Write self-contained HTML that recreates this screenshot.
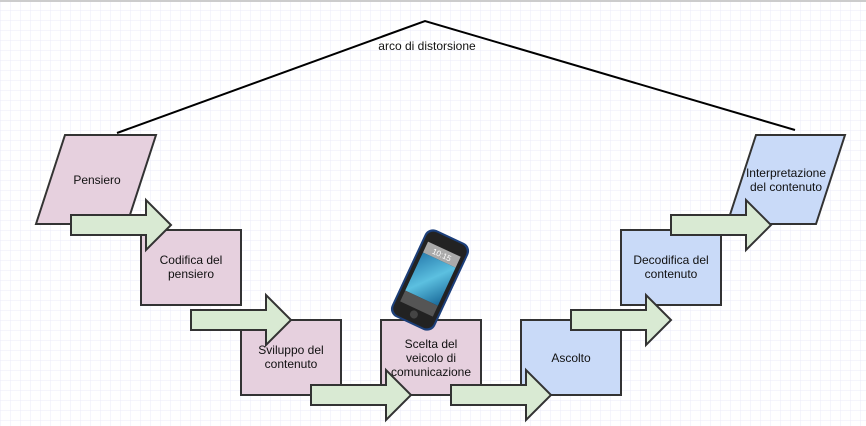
<!DOCTYPE html>
<html><head><style>
body{margin:0;width:866px;height:426px;overflow:hidden;background:#fff;}
svg{display:block}
text{font-family:"Liberation Sans",sans-serif;font-size:12px;fill:#111;}
</style></head><body>
<svg width="866" height="426" xmlns="http://www.w3.org/2000/svg">
<defs>
<pattern id="g" width="10" height="10" patternUnits="userSpaceOnUse" x="1" y="1">
<path d="M10 0V10H0" fill="none" stroke="#ebebf8" stroke-width="1"/>
</pattern>
<linearGradient id="scr" x1="0" y1="0" x2="1" y2="1"><stop offset="0" stop-color="#2a7fb0"/><stop offset="0.5" stop-color="#5cc0e0"/><stop offset="1" stop-color="#1a6a9a"/></linearGradient>
</defs>
<rect width="866" height="426" fill="url(#g)"/>
<rect width="866" height="2" fill="#ccc"/>
<polyline points="117,133 425,21 795,130" fill="none" stroke="#000" stroke-width="2"/>
<text x="427" y="50" text-anchor="middle">arco di distorsione</text>
<g stroke="#333" stroke-width="2">
<polygon points="65,135 156,135 127,224 36,224" fill="#e6d0de"/>
<polygon points="756,135 845,135 816,224 727,224" fill="#c9daf8"/>
<rect x="141" y="230" width="100" height="75" fill="#e6d0de"/>
<rect x="241" y="320" width="100" height="75" fill="#e6d0de"/>
<rect x="381" y="320" width="100" height="75" fill="#e6d0de"/>
<rect x="521" y="320" width="100" height="75" fill="#c9daf8"/>
<rect x="621" y="230" width="100" height="75" fill="#c9daf8"/>
</g>
<g fill="#111" text-anchor="middle">
<text x="97" y="184">Pensiero</text>
<text x="786" y="177">Interpretazione</text><text x="786" y="191">del contenuto</text>
<text x="191" y="264">Codifica del</text><text x="191" y="278">pensiero</text>
<text x="291" y="354">Sviluppo del</text><text x="291" y="368">contenuto</text>
<text x="431" y="348">Scelta del</text><text x="431" y="362">veicolo di</text><text x="431" y="376">comunicazione</text>
<text x="571" y="362">Ascolto</text>
<text x="671" y="264">Decodifica del</text><text x="671" y="278">contenuto</text>
</g>
<g stroke="#333" stroke-width="2" fill="#d9ead3">
<polygon points="71,215 146,215 146,200 171,225 146,250 146,235 71,235"/>
<polygon points="191,310 266,310 266,295 291,320 266,345 266,330 191,330"/>
<polygon points="311,385 386,385 386,370 411,395 386,420 386,405 311,405"/>
<polygon points="451,385 526,385 526,370 551,395 526,420 526,405 451,405"/>
<polygon points="571,310 646,310 646,295 671,320 646,345 646,330 571,330"/>
<polygon points="671,215 746,215 746,200 771,225 746,250 746,235 671,235"/>
</g>
<g transform="translate(430,280) rotate(25)">
<rect x="-24" y="-48" width="48" height="96" rx="9" fill="#1c3f7a"/>
<rect x="-22" y="-46" width="44" height="92" rx="8" fill="#222"/>
<rect x="-18" y="-34" width="36" height="12" fill="#aaa"/>
<text x="0" y="-25" text-anchor="middle" style="font-size:8px;fill:#fff">10:15</text>
<rect x="-18" y="-22" width="36" height="42" fill="url(#scr)"/>
<rect x="-18" y="20" width="36" height="12" fill="#555"/>
<circle cx="0" cy="38" r="4" fill="#444"/>
</g>
</svg>
</body></html>
